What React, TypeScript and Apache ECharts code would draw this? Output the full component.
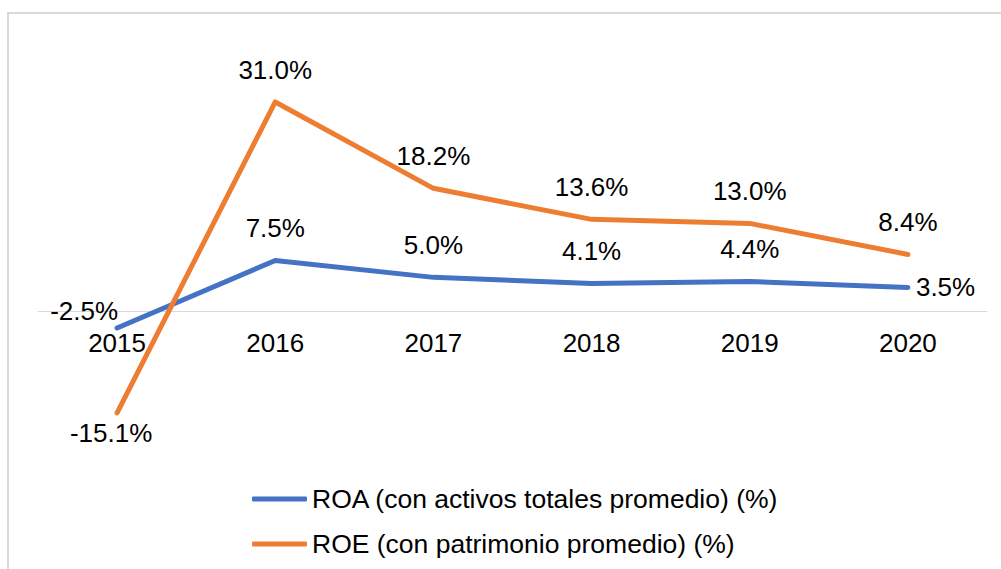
import React, { useEffect, useRef } from "react";
import * as echarts from "echarts";

const categories = ["2015", "2016", "2017", "2018", "2019", "2020"];
const roaValues = [-2.5, 7.5, 5.0, 4.1, 4.4, 3.5];
const roeValues = [-15.1, 31.0, 18.2, 13.6, 13.0, 8.4];
const roaName = "ROA (con activos totales promedio) (%)";
const roeName = "ROE (con patrimonio promedio) (%)";

const FONT = "'Liberation Sans', Arial, sans-serif";
const fmt = (v: number) => v.toFixed(1) + "%";

export default function App() {
  const ref = useRef<HTMLDivElement>(null);
  useEffect(() => {
    if (!ref.current) return;
    const chart = echarts.init(ref.current, null, { renderer: "svg" });
    const baseLabel = {
      show: true,
      fontSize: 26,
      fontFamily: FONT,
      color: "#000",
      formatter: (p: any) => fmt(Number(p.value)),
    };
    const roaData = roaValues.map((v, i) => {
      if (i === 0)
        return { value: v, label: { show: true, position: "left", distance: -1, offset: [0, -17] } };
      if (i === roaValues.length - 1)
        return { value: v, label: { show: true, position: "right", distance: 8 } };
      return { value: v, label: { show: true, position: "top", distance: 19 } };
    });
    const roeData = roeValues.map((v) =>
      v < 0
        ? { value: v, label: { show: true, position: "bottom", distance: 7, offset: [-6, 0] } }
        : { value: v, label: { show: true, position: "top", distance: 19 } }
    );
    chart.setOption({
      animation: false,
      backgroundColor: "#fff",
      textStyle: { fontFamily: FONT },
      graphic: [
        {
          type: "rect",
          shape: { x: 8, y: 13, width: 1100, height: 700 },
          style: { fill: "none", stroke: "#d9d9d9", lineWidth: 2 },
          silent: true,
        },
      ],
      grid: { left: 38, right: 14, top: 75, height: 371 },
      xAxis: {
        type: "category",
        data: categories,
        boundaryGap: true,
        axisLine: { show: true, onZero: true, lineStyle: { color: "#d9d9d9", width: 1 } },
        axisTick: { show: false },
        axisLabel: { fontSize: 26, fontFamily: FONT, color: "#000", margin: -116 },
        splitLine: { show: false },
      },
      yAxis: {
        type: "value",
        min: -20,
        max: 35,
        show: false,
        splitLine: { show: false },
      },
      legend: {
        orient: "vertical",
        left: 247,
        top: 479,
        icon: "roundRect",
        itemWidth: 55,
        itemHeight: 5,
        itemGap: 15,
        textStyle: { fontSize: 26.5, fontFamily: FONT, color: "#000", lineHeight: 30 },
        data: [roaName, roeName],
      },
      series: [
        {
          name: roaName,
          type: "line",
          data: roaData,
          symbol: "circle",
          symbolSize: 0.01,
          showSymbol: true,
          color: "#4472C4",
          itemStyle: { color: "#4472C4" },
          lineStyle: { color: "#4472C4", width: 5, cap: "round", join: "round" },
          label: baseLabel,
          z: 3,
        },
        {
          name: roeName,
          type: "line",
          data: roeData,
          symbol: "circle",
          symbolSize: 0.01,
          showSymbol: true,
          color: "#ED7D31",
          itemStyle: { color: "#ED7D31" },
          lineStyle: { color: "#ED7D31", width: 5, cap: "round", join: "round" },
          label: baseLabel,
          z: 4,
        },
      ],
    });
    return () => chart.dispose();
  }, []);
  return (
    <div
      ref={ref}
      style={{ position: "fixed", left: 0, top: 0, width: 1001, height: 569 }}
    />
  );
}
